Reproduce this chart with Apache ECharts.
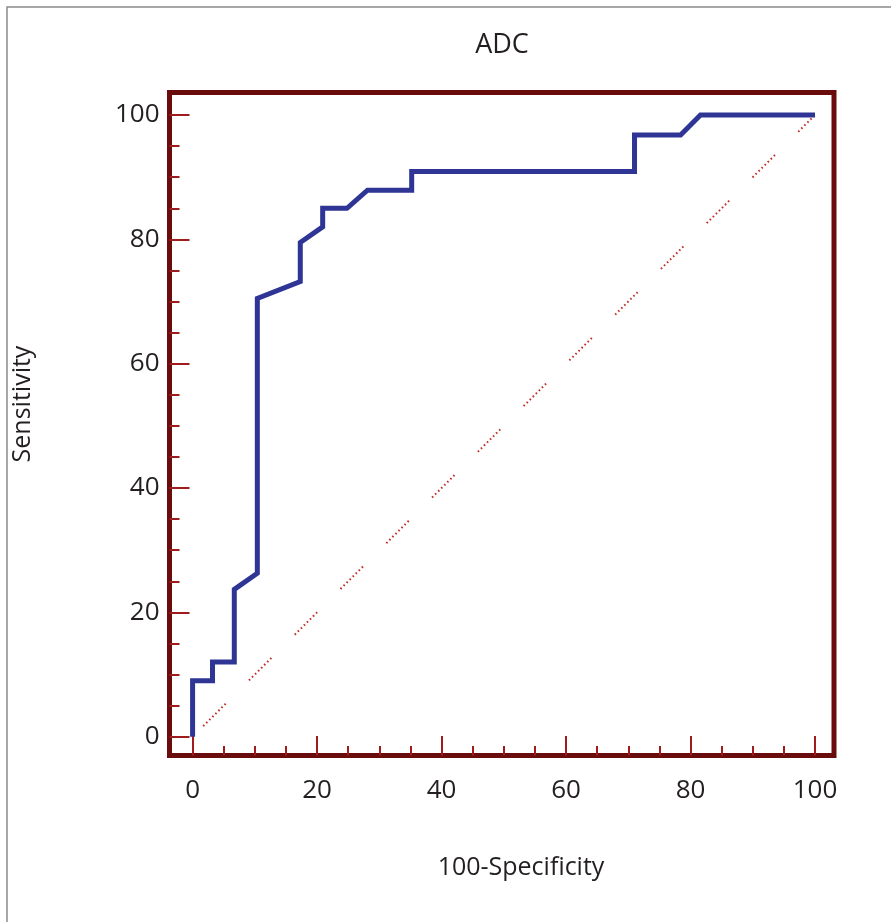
<!DOCTYPE html>
<html>
<head>
<meta charset="utf-8">
<script src="https://cdn.jsdelivr.net/npm/echarts@6/dist/echarts.min.js"></script>
<style>
html,body{margin:0;padding:0;background:#fff;}
#chart{width:891px;height:922px;}
</style>
</head>
<body>
<div id="chart"></div>
<script>
// ROC curve (100-Specificity, Sensitivity)
var rocX = [0, 0, 3.2, 3.2, 6.7, 6.7, 10.4, 10.4, 17.3, 17.3, 20.9, 20.9, 24.8, 28.1, 35.2, 35.2, 71.0, 71.0, 78.4, 81.6, 100];
var rocY = [0, 9.0, 9.0, 12.0, 12.0, 23.7, 26.3, 70.5, 73.2, 79.5, 82.0, 85.0, 85.0, 87.9, 87.9, 90.9, 90.9, 96.8, 96.8, 100, 100];
// reference diagonal
var diagX = [0, 100];
var diagY = [0, 100];
// ticks
var majorTicks = [0, 20, 40, 60, 80, 100];
var minorTicks = [5, 10, 15, 25, 30, 35, 45, 50, 55, 65, 70, 75, 85, 90, 95];
var titleText = 'ADC';
var xName = '100-Specificity';
var yName = 'Sensitivity';

var XMIN = -3.71, XMAX = 103.05, YMIN = -3.02, YMAX = 103.62;
var FONT = '"Open Sans", "Noto Sans", sans-serif';
var tickColor = '#a01c1c';
var frameColor = '#6a0c0c';

function pairs(xs, ys) { return xs.map(function (x, i) { return [x, ys[i]]; }); }

function xAxisDef(ticks, len, showLabel) {
  return {
    type: 'value', gridIndex: 0, position: 'bottom', min: XMIN, max: XMAX,
    axisLine: { show: false, onZero: false },
    splitLine: { show: false },
    axisTick: { show: true, inside: true, length: len, customValues: ticks,
      lineStyle: { color: tickColor, width: 2 } },
    axisLabel: { show: showLabel, customValues: majorTicks, margin: 22,
      color: '#231f20', fontSize: 26, fontFamily: FONT }
  };
}
function yAxisDef(ticks, len, showLabel) {
  return {
    type: 'value', gridIndex: 0, position: 'left', min: YMIN, max: YMAX,
    axisLine: { show: false, onZero: false },
    splitLine: { show: false },
    axisTick: { show: true, inside: true, length: len, customValues: ticks,
      lineStyle: { color: tickColor, width: 2 } },
    axisLabel: { show: showLabel, customValues: majorTicks, margin: 10,
      color: '#231f20', fontSize: 26, fontFamily: FONT }
  };
}

var chart = echarts.init(document.getElementById('chart'), null, { renderer: 'canvas' });
chart.setOption({
  animation: false,
  backgroundColor: '#ffffff',
  grid: {
    left: 169.5, top: 92.5, width: 664.5, height: 663,
    show: true, borderColor: frameColor, borderWidth: 5, backgroundColor: 'transparent'
  },
  xAxis: [xAxisDef(majorTicks, 19.5, true), xAxisDef(minorTicks, 9.5, false)],
  yAxis: [yAxisDef(majorTicks, 20, true), yAxisDef(minorTicks, 10, false)],
  graphic: [
    { type: 'rect', shape: { x: 7, y: 7, width: 1000, height: 1000 }, silent: true, z: -10,
      style: { fill: 'none', stroke: '#8a8a8a', lineWidth: 1.5 } },
    { type: 'text', x: 502, y: 45, style: { text: titleText, fontSize: 27, fontFamily: FONT,
      fill: '#231f20', textAlign: 'center', textVerticalAlign: 'middle' } },
    { type: 'text', x: 521, y: 868, style: { text: xName, fontSize: 25, fontFamily: FONT,
      fill: '#231f20', textAlign: 'center', textVerticalAlign: 'middle' } },
    { type: 'text', x: 23, y: 404, rotation: Math.PI / 2, style: { text: yName, fontSize: 25, fontFamily: FONT,
      fill: '#231f20', textAlign: 'center', textVerticalAlign: 'middle' } }
  ],
  series: [
    {
      type: 'line', xAxisIndex: 0, yAxisIndex: 0, data: pairs(diagX, diagY),
      symbol: 'none', silent: true, z: 2,
      lineStyle: { color: '#c0302a', width: 2, cap: 'butt',
        type: [1.6, 2.7, 1.6, 2.7, 1.6, 2.7, 1.6, 2.7, 1.6, 2.7, 1.6, 2.7, 1.6, 2.7, 1.6, 33.0],
        dashOffset: 49.7 }
    },
    {
      type: 'line', xAxisIndex: 0, yAxisIndex: 0, data: pairs(rocX, rocY),
      symbol: 'none', silent: true, z: 3,
      lineStyle: { color: '#2e3594', width: 5, join: 'miter' }
    }
  ]
});
</script>
</body>
</html>
